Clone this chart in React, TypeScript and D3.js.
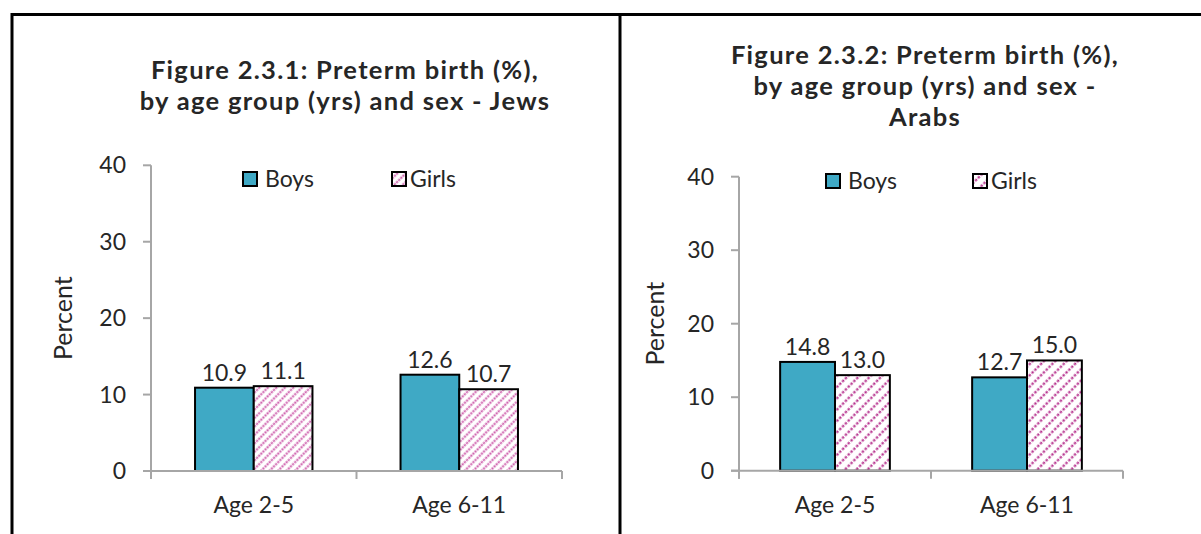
import React from "react";
import * as d3 from "d3";

const categories = ["Age 2-5", "Age 6-11"];
const seriesNames = ["Boys", "Girls"];
const jewsBoys = [10.9, 12.6];
const jewsGirls = [11.1, 10.7];
const arabsBoys = [14.8, 12.7];
const arabsGirls = [13.0, 15.0];
const yTicks = [0, 10, 20, 30, 40];
const titleJews = ["Figure 2.3.1: Preterm birth (%),", "by age group (yrs) and sex - Jews"];
const titleArabs = ["Figure 2.3.2: Preterm birth (%),", "by age group (yrs) and sex -", "Arabs"];

const FONT = "Lato, 'Open Sans', sans-serif";
const BOYS = "#3FA9C5";
const AXIS = "#A6A6A6";
const TEXT = "#262626";
const FS = 23;

type Layout = {
  x0: number; x1: number; y0: number; y1: number;
  titleX: number; titleY: number;
  legendY: number; legendBoysX: number; legendGirlsX: number;
  percentX: number; pattern: string;
};

function Chart({ boys, girls, title, L }: { boys: number[]; girls: number[]; title: string[]; L: Layout }) {
  const y = d3.scaleLinear().domain([0, 40]).range([L.y0, L.y1]);
  const x = d3.scaleBand<string>().domain(categories).range([L.x0, L.x1]).padding(0);
  const inner = d3.scaleBand<string>().domain(seriesNames).range([0, x.bandwidth()]).paddingInner(0).paddingOuter(0.75);
  const vals = [boys, girls];
  return (
    <g>
      {title.map((t, i) => (
        <text key={i} x={L.titleX} y={L.titleY + i * 31} textAnchor="middle" fontFamily={FONT} fontWeight="bold" fontSize={25.5} letterSpacing={1.3} fill={TEXT}>{t}</text>
      ))}
      {/* y axis */}
      <line x1={L.x0} x2={L.x0} y1={y(0) + 8} y2={y(40)} stroke={AXIS} strokeWidth={2} />
      {yTicks.map((t) => (
        <g key={t}>
          <line x1={L.x0 - 8} x2={L.x0} y1={y(t)} y2={y(t)} stroke={AXIS} strokeWidth={2} />
          <text x={L.x0 - 25} y={y(t)} dy="0.35em" textAnchor="end" fontFamily={FONT} fontSize={FS} fill={TEXT}>{t}</text>
        </g>
      ))}
      {/* bars */}
      {categories.map((c, ci) =>
        seriesNames.map((s, si) => {
          const v = vals[si][ci];
          const bx = (x(c) as number) + (inner(s) as number);
          const bw = inner.bandwidth();
          return (
            <g key={c + s}>
              <rect x={bx} y={y(v)} width={bw} height={y(0) - y(v)} fill={si === 0 ? BOYS : `url(#${L.pattern})`} stroke="#000" strokeWidth={2} />
              <text x={bx + bw / 2} y={y(v) - 7} textAnchor="middle" fontFamily={FONT} fontSize={FS} fill={TEXT}>{v.toFixed(1)}</text>
            </g>
          );
        })
      )}
      {/* x axis */}
      <line x1={L.x0 - 8} x2={L.x1} y1={y(0)} y2={y(0)} stroke={AXIS} strokeWidth={2} />
      {[L.x0, ...categories.map((c) => (x(c) as number) + x.bandwidth())].map((tx, i) => (
        <line key={i} x1={tx} x2={tx} y1={y(0)} y2={y(0) + 8} stroke={AXIS} strokeWidth={2} />
      ))}
      {categories.map((c) => (
        <text key={c} x={(x(c) as number) + x.bandwidth() / 2} y={y(0) + 42} textAnchor="middle" fontFamily={FONT} fontSize={FS} fill={TEXT}>{c}</text>
      ))}
      <text transform={`translate(${L.percentX},${(y(0) + y(40)) / 2}) rotate(-90)`} textAnchor="middle" dy="0.35em" fontFamily={FONT} fontSize={25} fill={TEXT}>Percent</text>
      {/* legend */}
      <rect x={L.legendBoysX} y={L.legendY - 7} width={14} height={14} fill={BOYS} stroke="#000" strokeWidth={2} />
      <text x={L.legendBoysX + 22} y={L.legendY} dy="0.35em" fontFamily={FONT} fontSize={FS} fill={TEXT}>{seriesNames[0]}</text>
      <rect x={L.legendGirlsX} y={L.legendY - 7} width={14} height={14} fill={`url(#${L.pattern})`} stroke="#000" strokeWidth={2} />
      <text x={L.legendGirlsX + 18} y={L.legendY} dy="0.35em" fontFamily={FONT} fontSize={FS} fill={TEXT}>{seriesNames[1]}</text>
    </g>
  );
}

export default function App() {
  const left: Layout = {
    x0: 151, x1: 562, y0: 471, y1: 165.3,
    titleX: 345, titleY: 79,
    legendY: 179, legendBoysX: 243, legendGirlsX: 392,
    percentX: 63, pattern: "hatchL",
  };
  const right: Layout = {
    x0: 739, x1: 1123, y0: 470.7, y1: 176.7,
    titleX: 925, titleY: 64,
    legendY: 181, legendBoysX: 826, legendGirlsX: 973,
    percentX: 655, pattern: "hatchR",
  };
  return (
    <svg width={1201} height={534} style={{ position: "absolute", left: 0, top: 0, background: "#fff" }}>
      <defs>
        <pattern id="hatchL" patternUnits="userSpaceOnUse" width={6} height={6} patternTransform="rotate(45)">
          <rect width={6} height={6} fill="#fff" />
          <line x1={1.5} y1={0} x2={1.5} y2={6} stroke="#D066B0" strokeWidth={2} strokeDasharray="2.2 0.8" />
        </pattern>
        <pattern id="hatchR" patternUnits="userSpaceOnUse" width={8} height={8} patternTransform="rotate(45)">
          <rect width={8} height={8} fill="#fff" />
          <line x1={1.5} y1={0} x2={1.5} y2={8} stroke="#B52E8C" strokeWidth={2.1} strokeDasharray="2.6 1.4" />
        </pattern>
      </defs>
      <rect x={0} y={0} width={1201} height={534} fill="#fff" />
      <line x1={11} x2={1201} y1={14.5} y2={14.5} stroke="#000" strokeWidth={3} />
      <line x1={12} x2={12} y1={13} y2={534} stroke="#000" strokeWidth={3} />
      <line x1={620} x2={620} y1={13} y2={534} stroke="#000" strokeWidth={3} />
      <Chart boys={jewsBoys} girls={jewsGirls} title={titleJews} L={left} />
      <Chart boys={arabsBoys} girls={arabsGirls} title={titleArabs} L={right} />
    </svg>
  );
}
